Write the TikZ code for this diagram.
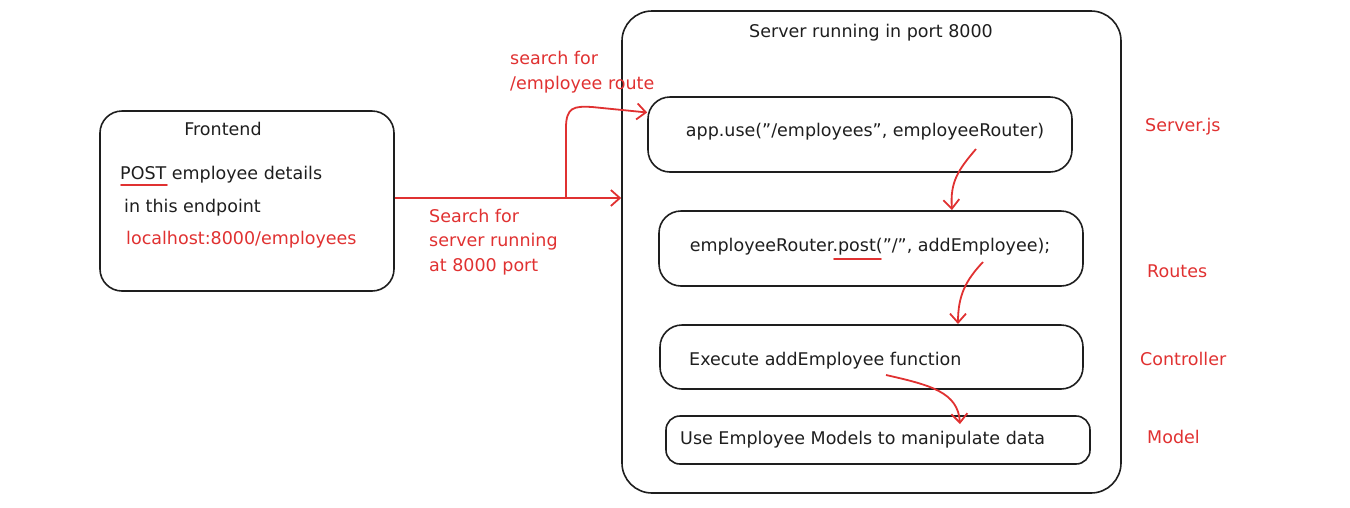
\documentclass[tikz,border=0pt]{standalone}
\usepackage{fontspec}
\setmainfont{DejaVu Sans}
\usetikzlibrary{arrows.meta}
\definecolor{inkred}{HTML}{E03131}
\definecolor{ink}{HTML}{1E1E1E}
\newcommand\dq{\symbol{34}}
\tikzset{
  box/.style={draw=ink, line width=1.6pt, rounded corners=22pt, inner sep=0pt},
  txt/.style={text=ink, font=\fontsize{17.5}{21}\selectfont, inner sep=0pt},
  rtxt/.style={text=inkred, font=\fontsize{17.5}{24.5}\selectfont, inner sep=0pt},
  arr/.style={draw=inkred, line width=1.8pt, -{Straight Barb[length=9pt,width=16pt,line width=1.8pt]}},
  uline/.style={draw=inkred, line width=1.6pt, line cap=round}
}
\begin{document}
\begin{tikzpicture}[x=1pt,y=-1pt]
\useasboundingbox (0,0) rectangle (1350,507);
% boxes
\node[box, minimum width=294pt, minimum height=180pt] (fe) at (247,201) {};
\node[box, rounded corners=30pt, minimum width=499pt, minimum height=482pt] (srv) at (871.5,252) {};
\node[box, minimum width=424pt, minimum height=75pt] (b1) at (860,134.5) {};
\node[box, minimum width=424pt, minimum height=75pt] (b2) at (871,248.5) {};
\node[box, minimum width=423pt, minimum height=64pt] (b3) at (871.5,357) {};
\node[box, rounded corners=14pt, minimum width=424pt, minimum height=48pt] (b4) at (878,440) {};
% texts
\node[txt] (fet) at (223,129) {Frontend};
\node[txt, anchor=west] (fe1) at (120,175) {POST employee details};
\node[txt, anchor=west] (fe2) at (124,208) {in this endpoint};
\node[rtxt, anchor=west] (fe3) at (126,240) {localhost:8000/employees};
\node[txt] (srvt) at (871,33) {Server running in port 8000};
\node[txt] (b1t) at (865,132) {app.use(\dq/employees\dq, employeeRouter)};
\node[txt] (b2t) at (870,247) {employeeRouter.post(\dq/\dq, addEmployee);};
\node[txt, anchor=west] (b3t) at (689,361) {Execute addEmployee function};
\node[txt, anchor=west] (b4t) at (680,440) {Use Employee Models to manipulate data};
\node[rtxt, anchor=west] (l1) at (1145,127) {Server.js};
\node[rtxt, anchor=west] (l2) at (1147,271) {Routes};
\node[rtxt, anchor=west] (l3) at (1140,359) {Controller};
\node[rtxt, anchor=west] (l4) at (1147,437) {Model};
\node[rtxt, anchor=west, align=left] (sr) at (510,72) {search for\\/employee route};
\node[rtxt, anchor=west, align=left] (ss) at (429,242) {Search for\\server running\\at 8000 port};
% underlines
\draw[uline] (121,185) -- (167,185);
\draw[uline] (834,259) -- (881,259);
% arrows
\draw[arr] ([yshift=3pt]fe.east) -- ([yshift=3pt]fe.east -| srv.west);
\coordinate (br) at (566,198);
\draw[arr] (br) -- (566,128) .. controls (566,107) and (574,106) .. (592,107) -- ([yshift=22pt]b1.west);
\coordinate (c1) at (976,149);
\coordinate (c2) at (983,262);
\coordinate (c3) at (886,375);
\draw[arr] (c1) .. controls (958,170) and (950,182) .. (952,210);
\draw[arr] (c2) .. controls (966,280) and (958,295) .. (958,324);
\draw[arr] (c3) .. controls (930,385) and (958,392) .. (960,424);
\end{tikzpicture}
\end{document}
